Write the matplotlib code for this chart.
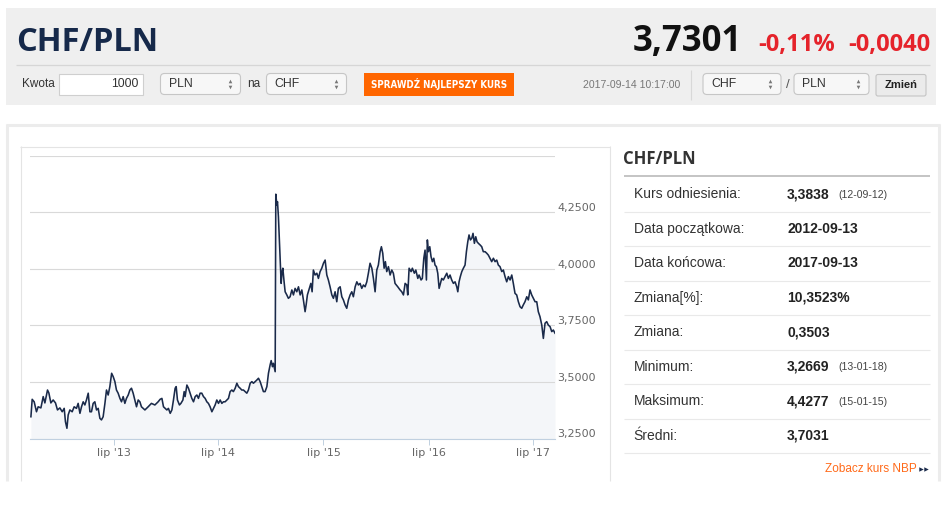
import matplotlib
matplotlib.use('Agg')
import matplotlib.pyplot as plt
from matplotlib.patches import Rectangle, FancyBboxPatch
from matplotlib.transforms import ScaledTranslation
from matplotlib import font_manager as fm

# ---- data ----
T = [2012.709, 2012.721, 2012.740, 2012.762, 2012.778, 2012.804, 2012.826, 2012.842, 2012.867, 2012.880,
     2012.899, 2012.921, 2012.943, 2012.962, 2012.985, 2013.007, 2013.026, 2013.038, 2013.052, 2013.064,
     2013.080, 2013.102, 2013.121, 2013.143, 2013.159, 2013.176, 2013.191, 2013.207, 2013.223, 2013.238,
     2013.255, 2013.271, 2013.286, 2013.302, 2013.318, 2013.334, 2013.350, 2013.366, 2013.381, 2013.397,
     2013.414, 2013.429, 2013.445, 2013.461, 2013.478, 2013.493, 2013.509, 2013.524, 2013.540, 2013.557,
     2013.572, 2013.588, 2013.604, 2013.619, 2013.636, 2013.652, 2013.667, 2013.683, 2013.699, 2013.715,
     2013.731, 2013.747, 2013.762, 2013.795, 2013.826, 2013.857, 2013.890, 2013.921, 2013.940, 2013.957,
     2013.972, 2013.988, 2014.004, 2014.019, 2014.036, 2014.052, 2014.067, 2014.083, 2014.093, 2014.105,
     2014.124, 2014.138, 2014.157, 2014.169, 2014.178, 2014.195, 2014.210, 2014.226, 2014.242, 2014.258,
     2014.274, 2014.290, 2014.305, 2014.321, 2014.337, 2014.353, 2014.369, 2014.385, 2014.400, 2014.416,
     2014.433, 2014.448, 2014.464, 2014.480, 2014.496, 2014.512, 2014.528, 2014.543, 2014.559, 2014.576,
     2014.591, 2014.607, 2014.623, 2014.638, 2014.655, 2014.671, 2014.686, 2014.702, 2014.718, 2014.734,
     2014.750, 2014.766, 2014.781, 2014.798, 2014.814, 2014.829, 2014.845, 2014.861, 2014.877, 2014.893,
     2014.909, 2014.924, 2014.940, 2014.957, 2014.972, 2014.988, 2014.998, 2015.010, 2015.019, 2015.036,
     2015.042, 2015.052, 2015.058, 2015.067, 2015.074, 2015.083, 2015.093, 2015.102, 2015.109, 2015.121,
     2015.131, 2015.147, 2015.162, 2015.178, 2015.195, 2015.210, 2015.226, 2015.242, 2015.258, 2015.274,
     2015.290, 2015.305, 2015.321, 2015.331, 2015.343, 2015.362, 2015.376, 2015.388, 2015.400, 2015.416,
     2015.433, 2015.448, 2015.464, 2015.480, 2015.496, 2015.512, 2015.528, 2015.543, 2015.559, 2015.576,
     2015.591, 2015.607, 2015.623, 2015.638, 2015.655, 2015.671, 2015.686, 2015.702, 2015.718, 2015.734,
     2015.750, 2015.766, 2015.781, 2015.798, 2015.814, 2015.829, 2015.845, 2015.861, 2015.877, 2015.893,
     2015.909, 2015.924, 2015.940, 2015.957, 2015.972, 2015.988, 2016.004, 2016.019, 2016.036, 2016.048,
     2016.061, 2016.074, 2016.086, 2016.099, 2016.115, 2016.131, 2016.147, 2016.162, 2016.178, 2016.204,
     2016.226, 2016.242, 2016.258, 2016.274, 2016.290, 2016.299, 2016.312, 2016.331, 2016.343, 2016.362,
     2016.376, 2016.395, 2016.407, 2016.426, 2016.438, 2016.452, 2016.464, 2016.477, 2016.486, 2016.496,
     2016.509, 2016.521, 2016.534, 2016.547, 2016.559, 2016.572, 2016.585, 2016.598, 2016.610, 2016.623,
     2016.638, 2016.655, 2016.671, 2016.686, 2016.702, 2016.718, 2016.734, 2016.750, 2016.766, 2016.776,
     2016.788, 2016.800, 2016.814, 2016.829, 2016.845, 2016.858, 2016.871, 2016.883, 2016.896, 2016.909,
     2016.921, 2016.934, 2016.947, 2016.959, 2016.972, 2016.988, 2017.004, 2017.019, 2017.036, 2017.052,
     2017.067, 2017.083, 2017.099, 2017.115, 2017.131, 2017.147, 2017.162, 2017.178, 2017.195, 2017.210,
     2017.226, 2017.242, 2017.258, 2017.274, 2017.290, 2017.305, 2017.321, 2017.337, 2017.353, 2017.369,
     2017.385, 2017.400, 2017.416, 2017.433, 2017.448, 2017.464, 2017.480, 2017.496, 2017.512, 2017.528,
     2017.543, 2017.559, 2017.576, 2017.591, 2017.607, 2017.623, 2017.638, 2017.655, 2017.671, 2017.686,
     2017.702]

RATE = [3.347, 3.424, 3.413, 3.369, 3.391, 3.386, 3.436, 3.408, 3.465, 3.452,
        3.408, 3.421, 3.408, 3.377, 3.386, 3.369, 3.384, 3.325, 3.296, 3.355,
        3.377, 3.369, 3.391, 3.384, 3.406, 3.362, 3.391, 3.413, 3.399, 3.421,
        3.451, 3.369, 3.369, 3.406, 3.413, 3.377, 3.384, 3.340, 3.333, 3.347,
        3.406, 3.465, 3.443, 3.480, 3.539, 3.524, 3.502, 3.465, 3.451, 3.428,
        3.413, 3.436, 3.406, 3.428, 3.443, 3.465, 3.473, 3.451, 3.421, 3.391,
        3.421, 3.413, 3.391, 3.377, 3.391, 3.406, 3.399, 3.413, 3.424, 3.428,
        3.391, 3.384, 3.377, 3.384, 3.362, 3.377, 3.421, 3.473, 3.480, 3.421,
        3.399, 3.406, 3.421, 3.458, 3.436, 3.487, 3.473, 3.451, 3.428, 3.413,
        3.436, 3.443, 3.428, 3.451, 3.451, 3.436, 3.428, 3.413, 3.406, 3.391,
        3.369, 3.384, 3.399, 3.421, 3.406, 3.421, 3.406, 3.413, 3.413, 3.421,
        3.428, 3.458, 3.465, 3.458, 3.473, 3.495, 3.480, 3.473, 3.465, 3.465,
        3.458, 3.451, 3.465, 3.495, 3.502, 3.495, 3.502, 3.509, 3.517, 3.502,
        3.480, 3.458, 3.458, 3.480, 3.539, 3.576, 3.595, 3.568, 3.583, 3.546,
        4.330, 4.282, 4.297, 4.231, 4.150, 4.047, 3.936, 3.988, 4.003, 3.943,
        3.899, 3.885, 3.870, 3.877, 3.907, 3.885, 3.914, 3.899, 3.921, 3.885,
        3.907, 3.863, 3.811, 3.841, 3.885, 3.914, 3.936, 3.899, 3.995, 3.973,
        3.981, 3.958, 3.988, 4.003, 4.025, 4.039, 3.973, 3.951, 3.921, 3.885,
        3.870, 3.899, 3.855, 3.914, 3.921, 3.877, 3.863, 3.841, 3.826, 3.863,
        3.885, 3.899, 3.877, 3.921, 3.943, 3.929, 3.936, 3.914, 3.929, 3.921,
        3.943, 3.981, 4.025, 4.003, 3.958, 3.899, 3.995, 4.017, 4.076, 4.098,
        4.069, 4.003, 4.032, 3.988, 4.010, 3.973, 3.995, 3.981, 3.936, 3.921,
        3.907, 3.899, 3.885, 3.936, 3.929, 3.885, 4.003, 3.988, 4.003, 3.981,
        3.995, 3.958, 3.973, 3.951, 3.958, 4.047, 4.083, 3.951, 4.128, 4.076,
        4.098, 4.054, 4.032, 4.047, 4.017, 4.010, 3.981, 3.914, 3.936, 3.958,
        3.951, 3.966, 3.981, 3.958, 3.973, 3.951, 3.936, 3.943, 3.921, 3.899,
        3.943, 3.966, 3.988, 4.003, 4.017, 4.076, 4.120, 4.150, 4.128, 4.135,
        4.157, 4.113, 4.142, 4.120, 4.113, 4.106, 4.098, 4.076, 4.076, 4.069,
        4.061, 4.047, 4.032, 4.047, 4.032, 4.039, 4.017, 4.010, 3.988, 3.995,
        3.966, 3.943, 3.966, 3.951, 3.973, 3.936, 3.892, 3.885, 3.855, 3.833,
        3.826, 3.841, 3.855, 3.877, 3.863, 3.907, 3.885, 3.870, 3.855, 3.855,
        3.811, 3.789, 3.752, 3.693, 3.760, 3.767, 3.752, 3.745, 3.723, 3.730,
        3.716]

XTICKS = [2013.496, 2014.496, 2015.496, 2016.497, 2017.496]
XLABELS = ["lip '13", "lip '14", "lip '15", "lip '16", "lip '17"]
YTICKS = [3.25, 3.5, 3.75, 4.0, 4.25, 4.5]

PAIR = 'CHF/PLN'
PRICE = '3,7301'
CHANGE_PCT = '-0,11%'
CHANGE_ABS = '-0,0040'
AMOUNT = '1000'
STAMP = '2017-09-14 10:17:00'

ROW_LABELS = ['Kurs odniesienia:', 'Data początkowa:', 'Data końcowa:', 'Zmiana[%]:',
              'Zmiana:', 'Minimum:', 'Maksimum:', 'Średni:']
ROW_VALUES = ['3,3838', '2012-09-13', '2017-09-13', '10,3523%',
              '0,3503', '3,2669', '4,4277', '3,7031']
ROW_NOTES = ['(12-09-12)', '', '', '', '', '(13-01-18)', '(15-01-15)', '']

# ---- fonts ----
SANS = ['Liberation Sans', 'DejaVu Sans']
HEAD = ['Open Sans', 'DejaVu Sans']
fonts = fm.fontManager.ttflist
if any(f.name == 'Liberation Sans Narrow' for f in fonts):
    NARROW, btn_stretch, btn_size = ['Liberation Sans Narrow', 'DejaVu Sans'], 'normal', 8.2
elif any(f.name == 'DejaVu Sans' and f.stretch == 'condensed' and f.weight == 700 for f in fonts):
    NARROW, btn_stretch, btn_size = ['DejaVu Sans'], 'condensed', 7.0
else:
    NARROW, btn_stretch, btn_size = SANS, 'normal', 6.8

W, H = 945, 530
fig = plt.figure(figsize=(W / 100, H / 100), dpi=100)
fig.patch.set_facecolor('white')

# page layer in pixel units, y downwards
page = fig.add_axes([0, 0, 1, 1])
page.set_xlim(0, W)
page.set_ylim(H, 0)
page.axis('off')


def txt(x, y, s, size, color='#333333', weight='normal', ha='left', va='center', family=SANS, **kw):
    page.text(x, y, s, fontsize=size, color=color, fontweight=weight, ha=ha, va=va, family=family, **kw)


def hline(y, x0, x1, color, lw):
    page.plot([x0, x1], [y, y], color=color, lw=lw, solid_capstyle='butt')


def vline(x, y0, y1, color, lw):
    page.plot([x, x], [y0, y1], color=color, lw=lw, solid_capstyle='butt')


def select(x0, x1, label):
    page.add_patch(FancyBboxPatch((x0, 73.5), x1 - x0, 21, boxstyle='round,pad=0,rounding_size=4',
                                  fc='#f7f7f7', ec='#c6c6c6', lw=0.8))
    txt(x0 + 8, 84, label, 8.8)
    page.plot([x1 - 11], [80.8], marker='^', ms=2.6, color='#777777', mew=0)
    page.plot([x1 - 11], [87.0], marker='v', ms=2.6, color='#777777', mew=0)


# header band
page.add_patch(Rectangle((6, 8), 930, 97, fc='#efefef', ec='none'))
txt(16, 51, PAIR, 23.5, color='#16294a', weight='bold', va='baseline', family=HEAD)
txt(742, 51, PRICE, 25, color='#111111', weight='bold', ha='right', va='baseline', family=HEAD)
txt(758, 51, CHANGE_PCT, 17, color='#e5232b', weight='bold', va='baseline', family=HEAD)
txt(930, 51, CHANGE_ABS, 17, color='#e5232b', weight='bold', ha='right', va='baseline', family=HEAD)
hline(64.5, 16, 930, '#d6d6d6', 0.9)

# controls row
txt(22, 84, 'Kwota', 8.5)
page.add_patch(Rectangle((58.5, 73.5), 84, 21, fc='white', ec='#cfcfcf', lw=0.8))
txt(138, 84, AMOUNT, 8.8, ha='right')
select(160.5, 240.5, 'PLN')
txt(247, 84, 'na', 8.5)
select(266.5, 346.5, 'CHF')
page.add_patch(Rectangle((364, 72.5), 150, 23, fc='#ff6600', ec='none'))
txt(439, 84, 'SPRAWDŹ NAJLEPSZY KURS', btn_size, color='white', weight='bold', ha='center',
    family=NARROW, fontstretch=btn_stretch)
txt(583, 85, STAMP, 7.6, color='#777777')
vline(690.5, 70, 100, '#d8d8d8', 0.8)
select(703, 781, 'CHF')
txt(787.5, 85, '/', 9.5, color='#555555', ha='center')
select(794, 869, 'PLN')
page.add_patch(FancyBboxPatch((876, 74.5), 50, 21.5, boxstyle='round,pad=0,rounding_size=2',
                              fc='#ebebeb', ec='#c4c4c4', lw=0.8))
txt(901, 85.5, 'Zmień', 8, color='#222222', weight='bold', ha='center')

# outer panel and chart frame (bottom edge cut off)
hline(125.3, 6, 940, '#ececec', 2.2)
vline(7.3, 124, 481, '#ececec', 2.2)
vline(938.7, 124, 481, '#ececec', 2.2)
hline(146.5, 20, 610, '#e4e4e4', 0.8)
vline(20.5, 146, 481, '#e4e4e4', 0.8)
vline(609.5, 146, 481, '#e4e4e4', 0.8)

# right-hand table
txt(623.5, 159, PAIR, 12, color='#333333', weight='bold', family=HEAD)
hline(175.5, 623.5, 930, '#b4b4b4', 1.1)
for i, (lab, val, note) in enumerate(zip(ROW_LABELS, ROW_VALUES, ROW_NOTES)):
    yc = 194.4 + 34.45 * i
    txt(633.5, yc, lab, 10, color='#333333')
    txt(787, yc, val, 10, color='#222222', weight='bold')
    if note:
        txt(838, yc + 0.5, note, 7.6, color='#444444')
    hline(211.8 + 34.45 * i, 623.5, 930, '#e9e9e9', 0.8)
txt(916.5, 469, 'Zobacz kurs NBP', 8.5, color='#ff6a1a', ha='right')
page.plot([921, 926], [469, 469], ls='none', marker='>', ms=3.2, color='#1a2a4a', mew=0)

# ---- the chart ----
ax = fig.add_axes([30.5 / W, (H - 438.7) / H, (555 - 30.5) / W, (438.7 - 155.7) / H])
ax.patch.set_alpha(0)
ax.fill_between(T, RATE, YTICKS[0], color='#f4f6f9', lw=0, zorder=1)
ax.plot(T, RATE, color='#1a2a4a', lw=1.15, zorder=3)
ax.set_xlim(2012.705, T[-1])
ax.set_ylim(YTICKS[0], YTICKS[-1])
ax.set_axisbelow('line')
ax.yaxis.grid(True, color='#d9d9d9', lw=0.8)
for s in ('left', 'right', 'top'):
    ax.spines[s].set_visible(False)
ax.spines['bottom'].set_color('#c0d0e0')
ax.spines['bottom'].set_linewidth(0.8)

ax.set_xticks(XTICKS)
ax.set_xticklabels(XLABELS)
ax.tick_params(axis='x', direction='out', length=4.4, width=0.7, color='#c0d0e0',
               labelcolor='#666666', labelsize=8, pad=2)
ax.set_yticks(YTICKS)
ax.set_yticklabels(['' if v > 4.4 else f'{v:.4f}'.replace('.', ',') for v in YTICKS])
ax.yaxis.tick_right()
ax.tick_params(axis='y', length=0, labelcolor='#666666', labelsize=8, pad=1.5)
shift = ScaledTranslation(0, 5.3 / 100, fig.dpi_scale_trans)
for tk in ax.yaxis.get_major_ticks():
    tk.label2.set_transform(tk.label2.get_transform() + shift)
for lbl in ax.get_xticklabels() + ax.get_yticklabels():
    lbl.set_family(['DejaVu Sans'])

fig.savefig('out.png', dpi=100, facecolor='white')
